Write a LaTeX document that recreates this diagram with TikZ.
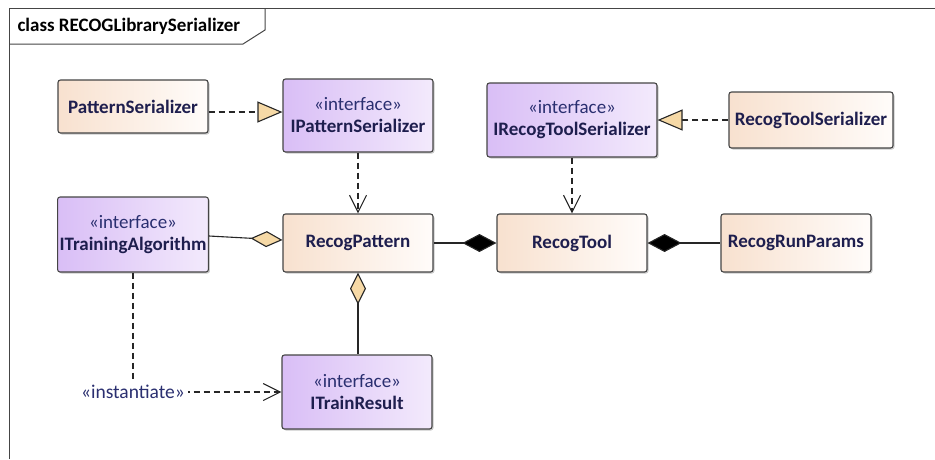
\documentclass[tikz,border=0pt]{standalone}
\usepackage{fontspec}
\setmainfont{Carlito}
\usetikzlibrary{arrows.meta,shadows,calc}

\definecolor{clsleft}{HTML}{F8E1CF}
\definecolor{clsright}{HTML}{FFFCFA}
\definecolor{ifleft}{HTML}{D9BEF6}
\definecolor{ifright}{HTML}{F3EAFC}
\definecolor{edge}{HTML}{454545}
\definecolor{ink}{HTML}{1E1E4E}
\definecolor{stereo}{HTML}{2A2F70}
\definecolor{tipfill}{HTML}{F6D9A6}

\tikzset{
  umlbox/.style={draw=edge, line width=1.1pt, rounded corners=2.5pt,
    minimum width=150pt, align=center, text=ink, inner sep=2pt,
    font=\fontsize{19pt}{22pt}\selectfont\bfseries,
    drop shadow={shadow xshift=1.5pt, shadow yshift=-1.5pt, opacity=0.35, fill=black!60}},
  classbox/.style={umlbox, left color=clsleft, right color=clsright, shading angle=90},
  ifacebox/.style={umlbox, left color=ifleft, right color=ifright},
  conn/.style={draw=black!85, line width=1.1pt},
  realize/.style={conn, dash pattern=on 6pt off 4pt,
    -{Triangle[length=25pt, width=21pt, fill=tipfill, line width=1.1pt]}},
  depend/.style={conn, dash pattern=on 6pt off 4pt,
    -{Straight Barb[length=17pt, width=17pt, line width=1.1pt]}},
  aggreg/.style={conn, {Diamond[length=32pt, width=16pt, fill=tipfill, line width=1.1pt]}-},
  compos/.style={conn, {Diamond[length=34pt, width=18pt, fill=black, line width=1.1pt]}-},
}
\newcommand{\stereo}[1]{{\fontsize{19pt}{22pt}\selectfont\mdseries\color{stereo}«#1»}}

\begin{document}
\begin{tikzpicture}[x=1pt, y=-1pt]
  \useasboundingbox (0,0) rectangle (935,459);

  % diagram frame with its name tab
  \draw[edge, line width=1pt] (9,459) -- (9,8.5) -- (935,8.5);
  \draw[edge, line width=1pt] (265,8.5) -- (265,30) -- (243,44) -- (9,44);
  \node[anchor=west, text=black, font=\fontsize{19pt}{20pt}\selectfont\bfseries]
    (title) at (14,26) {class RECOGLibrarySerializer};

  % classes and interfaces
  \node[classbox, minimum height=53pt] (PS)   at (133,106.5) {PatternSerializer};
  \node[ifacebox, minimum height=73pt] (IPS)  at (358,115.5) {\stereo{interface}\\IPatternSerializer};
  \node[ifacebox, minimum width=170pt, minimum height=74pt] (IRTS) at (572,120) {\stereo{interface}\\IRecogToolSerializer};
  \node[classbox, minimum width=164pt, minimum height=56pt] (RTS)  at (811,120) {RecogToolSerializer};
  \node[ifacebox, minimum height=75pt] (ITA)  at (133,234.5) {\stereo{interface}\\ITrainingAlgorithm};
  \node[classbox, minimum height=58pt] (RP)   at (358,243) {RecogPattern};
  \node[classbox, minimum height=58pt] (RT)   at (572,243) {RecogTool};
  \node[classbox, minimum height=58pt] (RRP)  at (796,243) {RecogRunParams};
  \node[ifacebox, minimum height=74pt] (ITR)  at (357,392) {\stereo{interface}\\ITrainResult};

  % realizations
  \draw[realize] ([yshift=-5.5pt]PS.east) -- ([yshift=3.5pt]IPS.west);
  \draw[realize] (RTS.west) -- (IRTS.east);

  % usage dependencies
  \draw[depend] (IPS.south) -- (RP.north);
  \draw[depend] (IRTS.south) -- (RT.north);

  % aggregations
  \draw[aggreg] ([yshift=3pt]RP.west) -- ([yshift=-1.5pt]ITA.east);
  \draw[aggreg] (RP.south) -- (RP.south |- ITR.north);

  % compositions
  \draw[compos] (RT.west) -- (RP.east);
  \draw[compos] (RT.east) -- (RRP.west);

  % instantiation
  \draw[depend] (ITA.south) |- (ITR.west)
    node[pos=0.5, fill=white, inner sep=3pt, text=stereo,
         font=\fontsize{19.5pt}{22pt}\selectfont] (inst) {«instantiate»};
\end{tikzpicture}
\end{document}
